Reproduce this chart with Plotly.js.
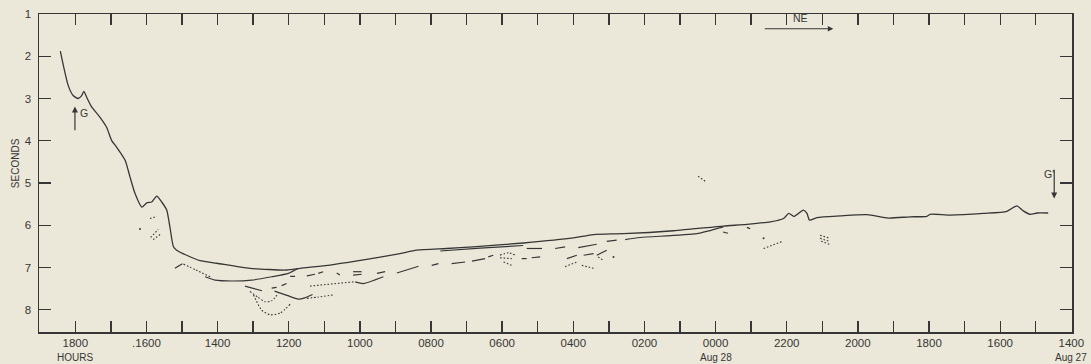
<!DOCTYPE html>
<html>
<head>
<meta charset="utf-8">
<script src="https://cdn.plot.ly/plotly-3.0.1.min.js"></script>
<style>
  html, body { margin: 0; padding: 0; background: #ece8d9; }
  #chart { width: 1091px; height: 364px; }
</style>
</head>
<body>
<div id="chart"></div>
<script>
// x = hours elapsed to the right, counted from 1800 Aug 28 (left) back to 1400 Aug 27 (right)
const hourTicks  = [0,1,2,3,4,5,6,7,8,9,10,11,12,13,14,15,16,17,18,19,20,21,22,23,24,25,26,27,28];
const hourLabels = ['1800','','.1600','','1400','','1200','','1000','','0800','','0600','','0400','','0200','','0000','','2200','','2000','','1800','','1600','','1400'];
const secondTicks = [1,2,3,4,5,6,7,8];

// main continuous trace
const mainHours   = [-0.42,-0.20,-0.06,0.08,0.18,0.24,0.32,0.46,0.69,0.88,1.02,1.16,1.40,1.54,1.68,1.87,2.01,2.15,2.29,2.43,2.57,2.66,2.76,2.85,3.13,3.51,3.98,4.91,5.94,6.32,7.25,8.19,9.13,9.60,10.44,11.19,12.60,14.00,14.57,15.41,16.82,18.22,18.88,19.54,19.91,20.06,20.20,20.47,20.57,20.64,20.85,21.50,22.26,22.86,23.47,23.94,24.03,24.59,25.53,26.19,26.47,26.65,26.84,27.04,27.35];
const mainSeconds = [1.88,2.69,2.93,3.00,2.93,2.83,2.97,3.20,3.44,3.68,3.99,4.15,4.46,4.86,5.25,5.57,5.47,5.45,5.31,5.45,5.64,6.04,6.51,6.59,6.71,6.84,6.90,7.02,7.06,7.02,6.93,6.81,6.67,6.59,6.55,6.51,6.42,6.30,6.22,6.20,6.13,6.02,5.98,5.92,5.84,5.72,5.79,5.64,5.72,5.88,5.82,5.78,5.75,5.83,5.80,5.79,5.74,5.76,5.72,5.67,5.54,5.66,5.74,5.71,5.71];

// secondary solid branches
const lowerHours   = [2.80,3.01,null, 3.65,3.93,4.40,4.96,5.52,5.99,6.27,null, 5.60,5.95,6.27,6.45,6.67,null, 7.87,8.10,8.66,null, 10.26,11.38,12.59,null, 15.46,15.88,17.47,18.22];
const lowerSeconds = [7.02,6.91,null, 7.22,7.30,7.32,7.30,7.22,7.14,7.02,null, 7.56,7.66,7.75,7.72,7.64,null, 7.34,7.38,7.22,null, 6.61,6.54,6.48,null, 6.34,6.29,6.20,6.04];

// long-dash pieces
const dashHours   = [4.77,5.25,null, 5.52,5.66,null, 5.80,5.94,null, 6.04,6.18,null, 6.51,6.74,null, 6.83,6.97,null, 7.35,7.44,null, 7.81,8.05,null, 7.81,8.05,null, 8.48,8.71,null, 9.04,9.65,null, 10.02,10.21,null, 10.58,10.96,null, 11.15,11.52,null, 11.61,11.75,null, 12.55,12.69,null, 12.83,13.07,null, 12.69,13.12,null, 13.49,13.77,null, 14.14,14.66,null, 14.94,15.22,null, 13.82,14.10,null, 14.29,14.57,null, 14.66,14.94,null, 18.21,18.35,null, 18.88,18.97];
const dashSeconds = [7.44,7.55,null, 7.49,7.47,null, 7.43,7.38,null, 7.21,7.21,null, 7.20,7.16,null, 7.14,7.10,null, 7.13,7.18,null, 7.10,7.10,null, 7.18,7.16,null, 7.14,7.10,null, 7.13,6.97,null, 6.95,6.91,null, 6.91,6.87,null, 6.85,6.79,null, 6.75,6.71,null, 6.79,6.79,null, 6.77,6.75,null, 6.55,6.55,null, 6.55,6.51,null, 6.53,6.45,null, 6.38,6.35,null, 6.79,6.71,null, 6.71,6.67,null, 6.71,6.59,null, 6.16,6.19,null, 6.05,6.08];

// dotted pieces
const dotHours   = [3.04,3.39,3.79,null, 4.91,5.13,5.33,5.52,5.71,null, 5.01,5.24,5.48,5.76,6.04,null, 6.60,7.82,null, 6.51,6.83,7.26,null, 11.94,12.18,12.37,null, 11.94,12.27,null, 12.04,12.27,null, 13.77,14.10,null, 14.24,14.57,null, 14.70,14.84,null, 19.35,19.86,null, 20.94,21.22,null, 20.94,21.22,null, 20.97,21.22,null, 2.10,2.29,null, 2.12,2.33,null, 2.19,2.40,null, 17.51,17.71];
const dotSeconds = [6.92,7.06,7.22,null, 7.57,7.70,7.81,7.79,7.61,null, 7.65,8.01,8.12,8.08,7.87,null, 7.44,7.34,null, 7.73,7.70,7.65,null, 6.71,6.65,6.71,null, 6.77,6.79,null, 6.87,6.95,null, 6.98,6.87,null, 6.95,7.02,null, 6.75,6.83,null, 6.55,6.39,null, 6.24,6.31,null, 6.31,6.39,null, 6.38,6.46,null, 5.84,5.79,null, 6.29,6.10,null, 6.34,6.21,null, 4.84,4.96];

// isolated specks
const speckHours   = [1.82, 15.13, 19.35];
const speckSeconds = [6.09, 6.75, 6.31];

const ink = '#363636';
const fontFamily = 'Liberation Sans, Arial, sans-serif';

const traces = [
  { x: mainHours, y: mainSeconds, mode: 'lines', line: { color: ink, width: 1.3, shape: 'spline', smoothing: 0.6 }, hoverinfo: 'skip' },
  { x: lowerHours, y: lowerSeconds, mode: 'lines', line: { color: ink, width: 1.2, shape: 'spline', smoothing: 0.6 }, connectgaps: false, hoverinfo: 'skip' },
  { x: dashHours, y: dashSeconds, mode: 'lines', line: { color: ink, width: 1.2 }, connectgaps: false, hoverinfo: 'skip' },
  { x: dotHours, y: dotSeconds, mode: 'lines', line: { color: ink, width: 1.1, dash: '1.6px,1.9px', shape: 'spline', smoothing: 0.6 }, connectgaps: false, hoverinfo: 'skip' },
  { x: speckHours, y: speckSeconds, mode: 'markers', marker: { color: ink, size: 2 }, hoverinfo: 'skip' }
];

const layout = {
  width: 1091, height: 364,
  margin: { l: 39, r: 19, t: 14, b: 32 },
  paper_bgcolor: '#ece8d9',
  plot_bgcolor: '#ece8d9',
  showlegend: false,
  font: { family: fontFamily, color: ink, size: 12 },
  xaxis: {
    range: [-1.02, 28.02],
    tickmode: 'array', tickvals: hourTicks, ticktext: hourLabels,
    ticks: 'inside', ticklen: 11, tickwidth: 1.3, tickcolor: ink,
    showline: true, linecolor: ink, linewidth: 1.5, mirror: 'ticks',
    showgrid: false, zeroline: false,
    tickfont: { family: fontFamily, size: 11.5, color: ink },
    ticklabelstandoff: 0
  },
  yaxis: {
    range: [8.527, 1],
    tickmode: 'array', tickvals: secondTicks,
    ticks: 'inside', ticklen: 12, tickwidth: 1.3, tickcolor: ink,
    showline: true, linecolor: ink, linewidth: 1.5, mirror: 'ticks',
    showgrid: false, zeroline: false,
    tickfont: { family: fontFamily, size: 11.5, color: ink },
    ticklabelstandoff: 4
  },
  annotations: [
    { xref: 'paper', yref: 'paper', x: 0, y: 0.531, xshift: -24, text: 'SECONDS', textangle: -90,
      showarrow: false, xanchor: 'center', yanchor: 'middle', font: { size: 10, color: ink } },
    { xref: 'x', yref: 'paper', x: 0, y: 0, yshift: -25, text: 'HOURS', showarrow: false,
      xanchor: 'center', yanchor: 'middle', font: { size: 10, color: ink } },
    { xref: 'x', yref: 'paper', x: 18, y: 0, yshift: -25, text: 'Aug 28', showarrow: false,
      xanchor: 'center', yanchor: 'middle', font: { size: 10, color: ink } },
    { xref: 'x', yref: 'paper', x: 28, y: 0, yshift: -25, text: 'Aug 27', showarrow: false,
      xanchor: 'center', yanchor: 'middle', font: { size: 10, color: ink } },
    // G arrow (up)
    { xref: 'x', yref: 'y', x: -0.01, y: 3.19, axref: 'x', ayref: 'y', ax: -0.01, ay: 3.79, text: '',
      showarrow: true, arrowhead: 2, arrowsize: 1, arrowwidth: 1.2, arrowcolor: ink },
    { xref: 'x', yref: 'y', x: 0.25, y: 3.35, text: 'G', showarrow: false, font: { size: 10.5, color: ink } },
    // G' arrow (down)
    { xref: 'x', yref: 'y', x: 27.52, y: 5.37, axref: 'x', ayref: 'y', ax: 27.52, ay: 4.65, text: '',
      showarrow: true, arrowhead: 2, arrowsize: 1, arrowwidth: 1.2, arrowcolor: ink },
    { xref: 'x', yref: 'y', x: 27.36, y: 4.78, text: "G'", showarrow: false, font: { size: 10.5, color: ink } },
    // NE arrow
    { xref: 'x', yref: 'y', x: 21.31, y: 1.35, axref: 'x', ayref: 'y', ax: 19.34, ay: 1.35, text: '',
      showarrow: true, arrowhead: 2, arrowsize: 1, arrowwidth: 1.1, arrowcolor: ink },
    { xref: 'x', yref: 'y', x: 20.38, y: 1.09, text: 'NE', showarrow: false, font: { size: 10.5, color: ink } }
  ]
};

Plotly.newPlot('chart', traces, layout, { staticPlot: true, displayModeBar: false });
</script>
</body>
</html>
